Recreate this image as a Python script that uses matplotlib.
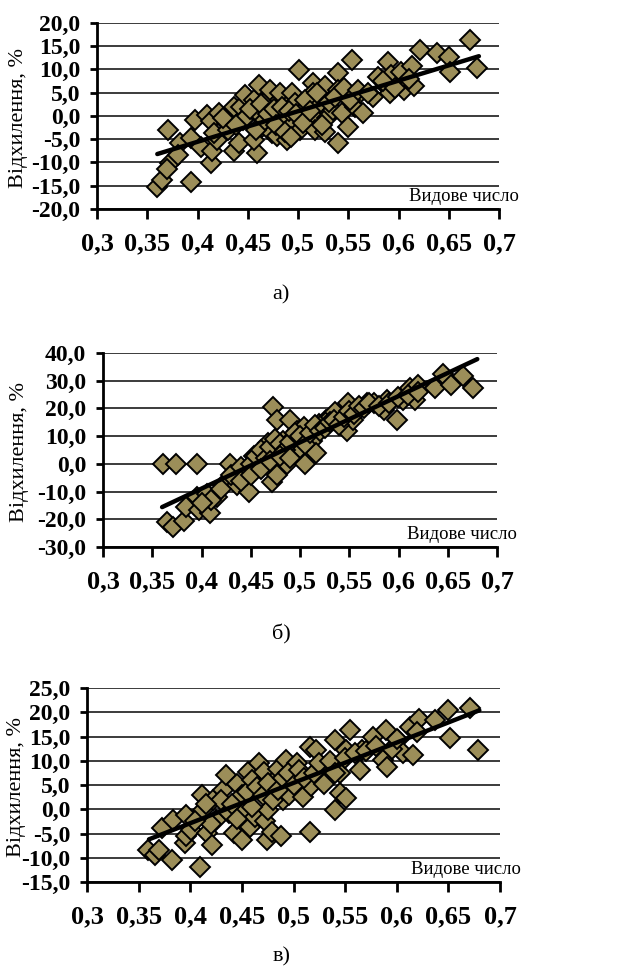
import matplotlib
matplotlib.use("Agg")
import matplotlib.pyplot as plt
from matplotlib.ticker import FuncFormatter, MultipleLocator

plt.rcParams['font.family'] = ['Liberation Serif', 'DejaVu Serif']

# --- а) ---
x_a = [0.360, 0.365, 0.371, 0.373, 0.370, 0.383, 0.381, 0.394, 0.398, 0.394,
       0.403, 0.409, 0.413, 0.413, 0.414, 0.421, 0.419, 0.416, 0.429, 0.436,
       0.436, 0.441, 0.443, 0.447, 0.449, 0.456, 0.459, 0.459, 0.461, 0.456,
       0.464, 0.469, 0.472, 0.474, 0.479, 0.482, 0.486, 0.482, 0.489, 0.494,
       0.496, 0.497, 0.501, 0.502, 0.509, 0.515, 0.515, 0.515, 0.517, 0.522,
       0.527, 0.529, 0.527, 0.535, 0.540, 0.540, 0.540, 0.544, 0.550, 0.554,
       0.557, 0.562, 0.565, 0.575, 0.580, 0.588, 0.590, 0.593, 0.592, 0.602,
       0.605, 0.613, 0.615, 0.621, 0.638, 0.650, 0.651, 0.671, 0.678,
       0.445, 0.452, 0.458, 0.463, 0.467, 0.470, 0.476, 0.478, 0.484, 0.487,
       0.491, 0.493, 0.498, 0.505, 0.507, 0.512, 0.519, 0.524, 0.531, 0.537,
       0.546, 0.552, 0.560, 0.570, 0.585, 0.597, 0.610, 0.430, 0.425, 0.438]
y_a = [-15.3, -13.7, -3.0, -10.1, -11.5, -5.9, -8.4, -14.1, -0.9, -4.8,
       -6.6, 0.2, -1.2, -10.1, -7.6, 0.6, -5.1, -3.7, -1.6, 2.0,
       -7.6, -5.9, 2.0, 4.5, -0.1, 3.4, -8.0, 0.9, 6.6, -5.1,
       -2.3, 3.4, 5.6, -3.7, -4.4, 3.4, -0.1, 4.9, -5.1, 4.9,
       -1.6, 2.7, 9.9, -3.0, 2.0, 7.0, 4.9, -0.1, -3.0, 2.7,
       6.3, -0.5, -3.4, 1.3, 9.1, 5.6, -5.9, 0.6, -2.3, 12.0,
       2.0, 4.9, 0.6, 4.1, 8.4, 6.3, 11.6, 8.8, 4.9, 9.5,
       5.6, 10.6, 6.3, 14.1, 13.4, 12.7, 9.5, 16.3, 10.2,
       -1.0, 1.5, -3.0, 2.5, -1.0, 0.5, 1.5, -2.0, 2.0, -3.5,
       1.0, -4.5, 0.5, -1.5, 3.5, 1.0, 5.0, -2.0, 3.0, 4.0,
       6.0, 3.5, 5.5, 5.0, 7.5, 6.0, 8.0, -3.0, -0.5, -2.0]
trend_x_a = [0.36, 0.68]
trend_y_a = [-8.2, 12.8]

# --- б) ---
x_b = [0.361, 0.374, 0.395, 0.365, 0.371, 0.382, 0.384, 0.395, 0.397, 0.409,
       0.406, 0.416, 0.422, 0.429, 0.436, 0.439, 0.448, 0.446, 0.453, 0.460,
       0.463, 0.468, 0.472, 0.473, 0.477, 0.477, 0.483, 0.487, 0.490, 0.494,
       0.497, 0.500, 0.504, 0.505, 0.512, 0.516, 0.519, 0.526, 0.531, 0.536,
       0.548, 0.549, 0.554, 0.561, 0.568, 0.575, 0.585, 0.588, 0.598, 0.605,
       0.612, 0.617, 0.620, 0.637, 0.645, 0.653, 0.665, 0.676,
       0.430, 0.440, 0.450, 0.455, 0.460, 0.465, 0.470, 0.475, 0.480, 0.485,
       0.490, 0.495, 0.500, 0.505, 0.510, 0.515, 0.520, 0.525, 0.530, 0.535,
       0.540, 0.545, 0.550, 0.555, 0.560, 0.565, 0.570, 0.580, 0.590, 0.600,
       0.610, 0.620, 0.440, 0.450, 0.460, 0.470, 0.420, 0.410, 0.400, 0.480,
       0.490]
y_b = [0.0, 0.0, 0.0, -21.1, -22.7, -20.5, -15.4, -11.9, -16.6, -17.8,
       -10.7, -11.9, -7.6, 0.0, -7.6, -2.1, -10.1, -3.9, 2.8, -1.5,
       4.7, 7.7, -6.4, 20.6, 15.7, -3.9, 8.4, 0.0, 15.7, 9.6,
       12.0, 5.9, 13.3, 0.0, 8.4, 4.1, 14.5, 15.7, 17.0, 18.8,
       12.0, 21.9, 15.7, 20.0, 21.9, 21.9, 19.4, 23.1, 15.7, 23.1,
       27.4, 23.1, 28.6, 27.4, 32.3, 28.6, 31.7, 27.4,
       -4.0, -1.0, 0.0, 3.0, 5.0, 2.0, 6.0, 9.0, 7.0, 5.0,
       8.0, 11.0, 10.0, 7.0, 11.0, 14.0, 12.0, 13.0, 15.0, 16.0,
       14.0, 17.0, 19.0, 18.0, 21.0, 20.0, 22.0, 21.0, 22.0, 24.0,
       25.0, 26.0, -6.0, -4.0, -2.0, 1.0, -9.0, -13.0, -14.0, 3.0,
       2.0]
trend_x_b = [0.36, 0.68]
trend_y_b = [-15.6, 37.8]

# --- в) ---
x_c = [0.359, 0.366, 0.370, 0.373, 0.382, 0.383, 0.395, 0.396, 0.396, 0.401,
       0.409, 0.411, 0.412, 0.416, 0.421, 0.422, 0.425, 0.432, 0.435, 0.438,
       0.442, 0.445, 0.450, 0.450, 0.451, 0.456, 0.458, 0.461, 0.463, 0.467,
       0.471, 0.472, 0.474, 0.475, 0.479, 0.482, 0.485, 0.488, 0.490, 0.493,
       0.496, 0.500, 0.503, 0.508, 0.509, 0.516, 0.516, 0.517, 0.522, 0.529,
       0.530, 0.540, 0.540, 0.545, 0.545, 0.551, 0.551, 0.555, 0.564, 0.566,
       0.577, 0.587, 0.590, 0.591, 0.601, 0.606, 0.613, 0.616, 0.622, 0.637,
       0.650, 0.652, 0.671, 0.679,
       0.430, 0.440, 0.455, 0.460, 0.465, 0.470, 0.475, 0.480, 0.485, 0.490,
       0.495, 0.500, 0.505, 0.510, 0.520, 0.525, 0.535, 0.540, 0.550, 0.560,
       0.570, 0.580, 0.595, 0.600, 0.620, 0.415, 0.420, 0.405, 0.445, 0.460]
y_c = [-8.4, -9.4, -8.4, -3.9, -10.4, -2.2, -7.0, -5.6, -1.2, -4.2,
       -11.8, 2.9, -0.1, -4.9, -7.3, 1.9, -2.2, 4.0, 7.1, -0.8,
       -4.9, 5.3, -6.3, 2.9, -0.8, 7.7, -3.6, 4.7, -1.5, 9.5,
       7.7, -2.5, -6.3, -0.1, -4.6, 6.0, 8.4, -5.6, 1.9, 10.1,
       2.9, 6.7, 9.5, 4.7, 2.6, 12.9, -4.6, 4.7, 12.2, 8.8,
       5.3, 14.2, -0.1, 3.3, 7.4, 2.3, 12.2, 16.3, 8.1, 12.2,
       14.9, 10.1, 16.3, 8.8, 14.2, 11.5, 17.0, 11.2, 18.7, 18.4,
       20.4, 14.6, 20.8, 12.2,
       2.0, 1.0, 3.5, 6.0, 4.5, 3.0, 5.5, 2.0, 4.0, 6.5,
       7.5, 5.0, 8.0, 6.5, 7.5, 9.5, 10.0, 7.5, 10.5, 11.5,
       12.0, 13.0, 12.5, 14.5, 16.0, 1.0, -3.0, -2.5, -2.0, 0.5]
trend_x_c = [0.36, 0.68]
trend_y_c = [-6.2, 20.4]

panels = [
    (x_a, y_a, trend_x_a, trend_y_a, (-20, 20), 5, 'а)'),
    (x_b, y_b, trend_x_b, trend_y_b, (-30, 40), 10, 'б)'),
    (x_c, y_c, trend_x_c, trend_y_c, (-15, 25), 5, 'в)'),
]
# axes rectangles [left, bottom, width, height] in figure fractions
rects = [
    [0.1552, 0.7852, 0.6432, 0.1915],
    [0.1648, 0.4378, 0.6304, 0.1994],
    [0.1392, 0.0935, 0.6608, 0.1994],
]
caption_y = [0.687, 0.338, 0.007]
ylabel_pos = [(0.029, 0.879), (0.032, 0.535), (0.027, 0.191)]

marker_color = '#9c8e59'

fig = plt.figure(figsize=(6.25, 9.73), dpi=100)

for (xs, ys, tx, ty, ylim, ystep, cap), rect, cy, (lx, ly) in zip(
        panels, rects, caption_y, ylabel_pos):
    ax = fig.add_axes(rect)
    ax.set_xlim(0.3, 0.7)
    ax.set_ylim(*ylim)
    ax.xaxis.set_major_locator(MultipleLocator(0.05))
    ax.yaxis.set_major_locator(MultipleLocator(ystep))
    ax.xaxis.set_major_formatter(FuncFormatter(lambda v, p: f"{v:g}".replace('.', ',')))
    ax.yaxis.set_major_formatter(FuncFormatter(lambda v, p: f"{v:.1f}".replace('.', ',')))

    ax.grid(axis='y', color='#1a1a1a', linewidth=1.2)
    ax.set_axisbelow(True)
    for s in ['top', 'right']:
        ax.spines[s].set_visible(False)
    for s in ['left', 'bottom']:
        ax.spines[s].set_linewidth(2)

    ax.tick_params(axis='y', direction='out', length=5, width=2, pad=7,
                   labelsize=17)
    ax.tick_params(axis='x', direction='out', length=7, width=2, pad=10,
                   labelsize=19)
    for lab in ax.get_xticklabels() + ax.get_yticklabels():
        lab.set_fontweight('bold')

    ax.plot(xs, ys, linestyle='none', marker='D', markersize=10.5,
            markerfacecolor=marker_color, markeredgecolor='black',
            markeredgewidth=1.4, zorder=3)
    ax.plot(tx, ty, color='black', linewidth=3.2, solid_capstyle='round', zorder=4)

    fig.text(lx, ly, 'Відхилення, %', rotation=90, ha='center', va='center',
             fontsize=16)
    ax.text(1.05, 0.02, 'Видове число', transform=ax.transAxes,
            ha='right', va='bottom', fontsize=13.5, zorder=5)
    fig.text(0.450, cy, cap, ha='center', va='bottom', fontsize=16)

fig.savefig('out.png', dpi=100)
